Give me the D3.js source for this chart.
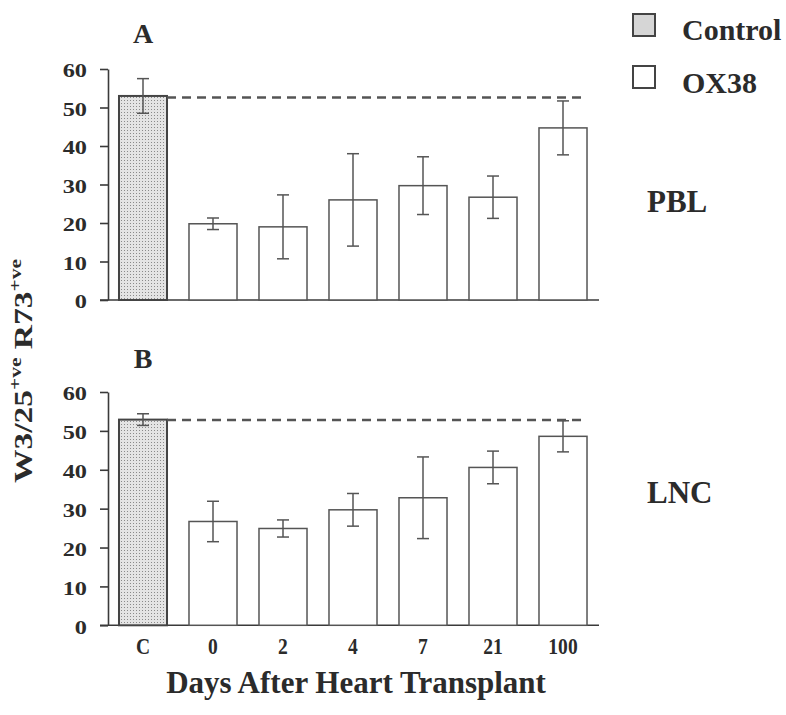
<!DOCTYPE html>
<html>
<head>
<meta charset="utf-8">
<script src="https://cdn.jsdelivr.net/npm/d3@7"></script>
<style>
  html, body { margin: 0; padding: 0; background: #fff; }
  svg { display: block; }
  text { font-family: "Liberation Serif", "Times New Roman", serif; font-weight: bold; fill: #2b2b2b; }
</style>
</head>
<body>
<svg id="chart" width="786" height="715"></svg>
<script>
// ---- data ----
const categories = ["C", "0", "2", "4", "7", "21", "100"];
const groups = ["Control", "OX38", "OX38", "OX38", "OX38", "OX38", "OX38"];
const yTicks = [0, 10, 20, 30, 40, 50, 60];

const pblMean = [53.0, 19.8, 19.0, 26.0, 29.7, 26.7, 44.7];
const pblErr  = [4.5, 1.5, 8.3, 12.0, 7.5, 5.5, 7.0];
const pblControlLine = 52.6;

const lncMean = [52.9, 26.7, 24.9, 29.7, 32.8, 40.6, 48.6];
const lncErr  = [1.5, 5.2, 2.2, 4.2, 10.5, 4.2, 4.0];
const lncControlLine = 52.8;

const legendLabels = ["Control", "OX38"];

// ---- drawing ----
const svg = d3.select("#chart");
const ink = "#3a3a3a";

const defs = svg.append("defs");
const pat = defs.append("pattern")
  .attr("id", "dots").attr("patternUnits", "userSpaceOnUse")
  .attr("width", 3).attr("height", 3);
pat.append("rect").attr("width", 3).attr("height", 3).attr("fill", "#e4e4e4");
pat.append("rect").attr("x", 1).attr("y", 1).attr("width", 1).attr("height", 1).attr("fill", "#8a8a8a");

const x = d3.scaleBand().domain(categories).range([108, 598])
  .paddingInner(0.314).paddingOuter(0.157);

function panel(letter, mean, err, ctrl, top, bottom, tag, tagY, letterY) {
  const y = d3.scaleLinear().domain([0, 60]).range([bottom, top]);
  const g = svg.append("g");

  // y axis
  const ax = g.append("g").attr("transform", "translate(108,0)")
    .call(d3.axisLeft(y).tickValues(yTicks).tickSize(8).tickSizeOuter(0).tickPadding(0));
  ax.attr("font-family", null).attr("font-size", null);
  ax.select(".domain").attr("stroke", ink).attr("stroke-width", 1.6);
  ax.selectAll(".tick line").attr("stroke", ink).attr("stroke-width", 1.6);
  ax.selectAll(".tick text")
    .attr("font-size", 19)
    .attr("x", -21 / 1.28).attr("dy", "0.42em")
    .attr("transform", "scale(1.28,1)")
    .attr("fill", "#2b2b2b");

  // baseline
  g.append("line").attr("x1", 100).attr("x2", 599)
    .attr("y1", y(0)).attr("y2", y(0))
    .attr("stroke", ink).attr("stroke-width", 1.6);

  // bars
  g.selectAll("rect.bar").data(categories).enter().append("rect")
    .attr("class", "bar")
    .attr("x", d => x(d))
    .attr("width", x.bandwidth())
    .attr("y", (d, i) => y(mean[i]))
    .attr("height", (d, i) => y(0) - y(mean[i]))
    .attr("fill", (d, i) => groups[i] === "Control" ? "url(#dots)" : "#fff")
    .attr("stroke", (d, i) => groups[i] === "Control" ? "#444" : "#555")
    .attr("stroke-width", (d, i) => groups[i] === "Control" ? 2 : 1.5);

  // dashed control reference line
  const last = categories[categories.length - 1];
  g.append("line")
    .attr("x1", x(categories[0]) + x.bandwidth())
    .attr("x2", x(last) + x.bandwidth() * 0.9)
    .attr("y1", y(ctrl)).attr("y2", y(ctrl))
    .attr("stroke", "#555").attr("stroke-width", 2.4)
    .attr("stroke-dasharray", "9,6");

  // error bars
  const cap = 6;
  categories.forEach((c, i) => {
    const cx = x(c) + x.bandwidth() / 2;
    const y1 = y(mean[i] + err[i]), y2 = y(mean[i] - err[i]);
    g.append("line").attr("x1", cx).attr("x2", cx).attr("y1", y1).attr("y2", y2)
      .attr("stroke", "#555").attr("stroke-width", 1.5);
    g.append("line").attr("x1", cx - cap).attr("x2", cx + cap).attr("y1", y1).attr("y2", y1)
      .attr("stroke", "#555").attr("stroke-width", 1.5);
    g.append("line").attr("x1", cx - cap).attr("x2", cx + cap).attr("y1", y2).attr("y2", y2)
      .attr("stroke", "#555").attr("stroke-width", 1.5);
  });

  // panel letter
  g.append("text").attr("x", 143).attr("y", letterY).attr("text-anchor", "middle")
    .attr("font-size", 28).text(letter);

  // tissue tag
  g.append("text").attr("x", 647).attr("y", tagY).attr("font-size", 31).text(tag);

  return y;
}

panel("A", pblMean, pblErr, pblControlLine, 69, 300, "PBL", 212, 43);
panel("B", lncMean, lncErr, lncControlLine, 392, 625.3, "LNC", 503, 368);

// x tick labels (under bottom panel)
svg.append("g").selectAll("text").data(categories).enter().append("text")
  .attr("transform", d => `translate(${x(d) + x.bandwidth() / 2},654) scale(0.85,1)`)
  .attr("text-anchor", "middle")
  .attr("font-size", 23)
  .text(d => d);

// x title
svg.append("text").attr("x", 356).attr("y", 693).attr("text-anchor", "middle")
  .attr("font-size", 31).text("Days After Heart Transplant");

// y title
const yt = svg.append("text")
  .attr("transform", "translate(32,371) rotate(-90) scale(1.34,1)")
  .attr("text-anchor", "middle")
  .attr("font-size", 25);
yt.append("tspan").text("W3/25");
yt.append("tspan").attr("font-size", 16).attr("dy", -11).text("+ve");
yt.append("tspan").attr("dy", 11).text(" R73");
yt.append("tspan").attr("font-size", 16).attr("dy", -11).text("+ve");

// legend
const lg = svg.append("g");
legendLabels.forEach((lab, i) => {
  const ty = 14 + i * 52;
  lg.append("rect").attr("x", 633).attr("y", ty).attr("width", 22).attr("height", 22)
    .attr("fill", i === 0 ? "#d6d6d6" : "#fff")
    .attr("stroke", "#444").attr("stroke-width", 2);
  lg.append("text").attr("x", 682).attr("y", 40 + i * 53).attr("font-size", 30).text(lab);
});
</script>
</body>
</html>
